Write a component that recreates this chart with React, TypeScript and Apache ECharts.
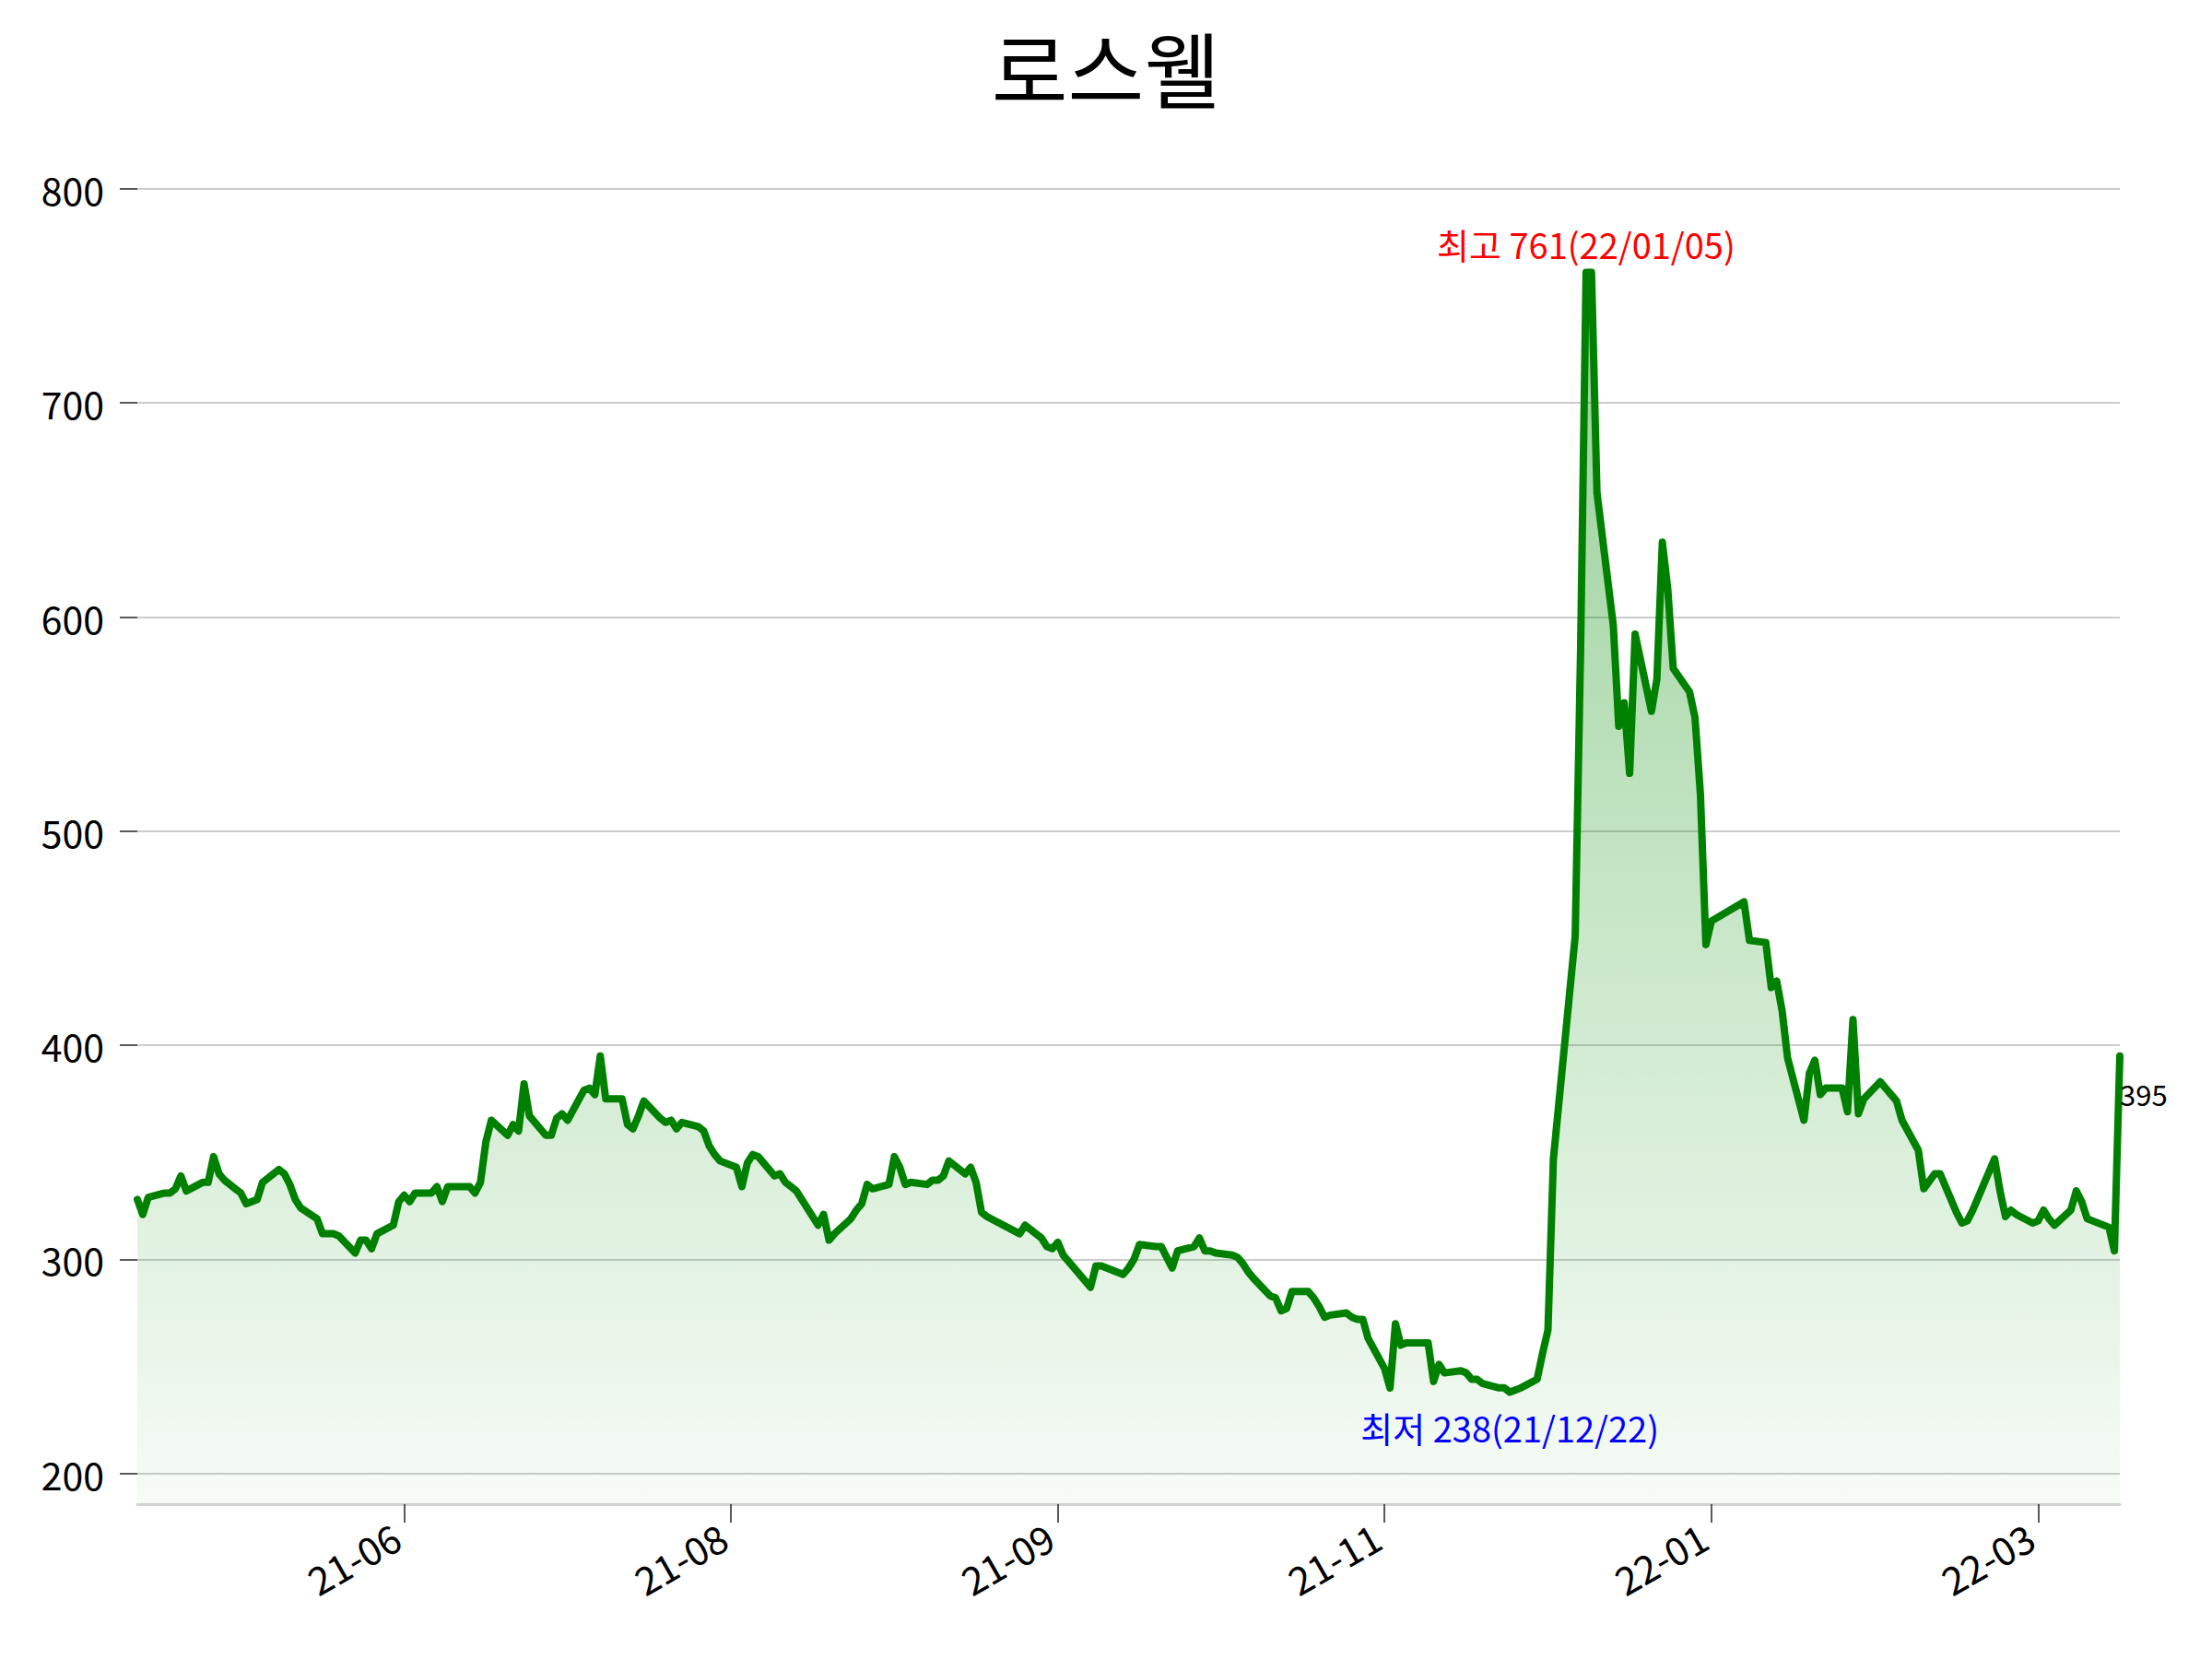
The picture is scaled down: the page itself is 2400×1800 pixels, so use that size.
import React, { useEffect, useRef } from "react";
import * as echarts from "echarts";

const chartTitle = "로스웰";

const dates: string[] = [
  "2021-04-14", "2021-04-15", "2021-04-16", "2021-04-19", "2021-04-20", "2021-04-21", "2021-04-22", "2021-04-23",
  "2021-04-26", "2021-04-27", "2021-04-28", "2021-04-29", "2021-04-30",
  "2021-05-03", "2021-05-04", "2021-05-06", "2021-05-07", "2021-05-10", "2021-05-11", "2021-05-12", "2021-05-13", "2021-05-14",
  "2021-05-17", "2021-05-18", "2021-05-20", "2021-05-21", "2021-05-24", "2021-05-25", "2021-05-26", "2021-05-27", "2021-05-28",
  "2021-05-31", "2021-06-01", "2021-06-02", "2021-06-03", "2021-06-04", "2021-06-07", "2021-06-08", "2021-06-09", "2021-06-10", "2021-06-11",
  "2021-06-14", "2021-06-15", "2021-06-16", "2021-06-17", "2021-06-18", "2021-06-21", "2021-06-22", "2021-06-23", "2021-06-24", "2021-06-25",
  "2021-06-28", "2021-06-29", "2021-06-30", "2021-07-01", "2021-07-02", "2021-07-05", "2021-07-06", "2021-07-07", "2021-07-08", "2021-07-09",
  "2021-07-12", "2021-07-13", "2021-07-14", "2021-07-15", "2021-07-16", "2021-07-19", "2021-07-20", "2021-07-21", "2021-07-22", "2021-07-23",
  "2021-07-26", "2021-07-27", "2021-07-28", "2021-07-29", "2021-07-30", "2021-08-02", "2021-08-03", "2021-08-04", "2021-08-05", "2021-08-06",
  "2021-08-09", "2021-08-10", "2021-08-11", "2021-08-12", "2021-08-13", "2021-08-17", "2021-08-18", "2021-08-19", "2021-08-20",
  "2021-08-23", "2021-08-24", "2021-08-25", "2021-08-26", "2021-08-27", "2021-08-30", "2021-08-31", "2021-09-01", "2021-09-02", "2021-09-03",
  "2021-09-06", "2021-09-07", "2021-09-08", "2021-09-09", "2021-09-10", "2021-09-13", "2021-09-14", "2021-09-15", "2021-09-16", "2021-09-17",
  "2021-09-23", "2021-09-24", "2021-09-27", "2021-09-28", "2021-09-29", "2021-09-30", "2021-10-01",
  "2021-10-05", "2021-10-06", "2021-10-07", "2021-10-08", "2021-10-12", "2021-10-13", "2021-10-14", "2021-10-15",
  "2021-10-18", "2021-10-19", "2021-10-20", "2021-10-21", "2021-10-22", "2021-10-25", "2021-10-26", "2021-10-27", "2021-10-28", "2021-10-29",
  "2021-11-01", "2021-11-02", "2021-11-03", "2021-11-04", "2021-11-05", "2021-11-08", "2021-11-09", "2021-11-10", "2021-11-11", "2021-11-12",
  "2021-11-15", "2021-11-16", "2021-11-17", "2021-11-18", "2021-11-19", "2021-11-22", "2021-11-23", "2021-11-24", "2021-11-25", "2021-11-26",
  "2021-11-29", "2021-11-30", "2021-12-01", "2021-12-02", "2021-12-03", "2021-12-06", "2021-12-07", "2021-12-08", "2021-12-09", "2021-12-10",
  "2021-12-13", "2021-12-14", "2021-12-15", "2021-12-16", "2021-12-17", "2021-12-20", "2021-12-21", "2021-12-22", "2021-12-23", "2021-12-24",
  "2021-12-27", "2021-12-28", "2021-12-29", "2021-12-30",
  "2022-01-03", "2022-01-04", "2022-01-05", "2022-01-06", "2022-01-07", "2022-01-10", "2022-01-11", "2022-01-12", "2022-01-13", "2022-01-14",
  "2022-01-17", "2022-01-18", "2022-01-19", "2022-01-20", "2022-01-21", "2022-01-24", "2022-01-25", "2022-01-26", "2022-01-27", "2022-01-28",
  "2022-02-03", "2022-02-04", "2022-02-07", "2022-02-08", "2022-02-09", "2022-02-10", "2022-02-11",
  "2022-02-14", "2022-02-15", "2022-02-16", "2022-02-17", "2022-02-18", "2022-02-21", "2022-02-22", "2022-02-23", "2022-02-24", "2022-02-25",
  "2022-02-28", "2022-03-02", "2022-03-03", "2022-03-04", "2022-03-07", "2022-03-08", "2022-03-10", "2022-03-11",
  "2022-03-14", "2022-03-15", "2022-03-16", "2022-03-17", "2022-03-18", "2022-03-21", "2022-03-22", "2022-03-23", "2022-03-24", "2022-03-25",
  "2022-03-28", "2022-03-29", "2022-03-30", "2022-03-31", "2022-04-01", "2022-04-04", "2022-04-05", "2022-04-06", "2022-04-07", "2022-04-08",
  "2022-04-11", "2022-04-12", "2022-04-13",
];

const closes: number[] = [
  328, 321, 329, 331, 331, 333, 339, 332,
  336, 336, 348, 340, 337,
  331, 326, 328, 336, 342, 340, 335, 328, 324,
  319, 312, 312, 311, 303, 309, 309, 305, 312,
  316, 327, 330, 327, 331, 331, 334, 327, 334, 334,
  334, 331, 336, 355, 365, 358, 363, 360, 382, 367,
  358, 358, 366, 368, 365, 379, 380, 377, 395, 375,
  375, 363, 361, 367, 374, 366, 364, 365, 361, 364,
  362, 360, 353, 349, 346, 343, 334, 345, 349, 348,
  339, 340, 336, 334, 332, 316, 321, 309, 312,
  319, 323, 326, 335, 333, 335, 348, 343, 335, 336,
  335, 337, 337, 339, 346, 340, 343, 336, 322, 320,
  312, 316, 310, 306, 305, 308, 302,
  290, 287, 297, 297, 293, 296, 300, 307,
  306, 306, 301, 296, 304, 306, 310, 304, 304, 303,
  302, 301, 298, 294, 291, 283, 282, 276, 277, 285,
  285, 282, 278, 273, 274, 275, 273, 272, 272, 263,
  249, 240, 270, 260, 261, 261, 261, 243, 251, 247,
  248, 247, 244, 244, 242, 240, 240, 238, 239, 240,
  244, 256, 267, 347,
  451, 586, 761, 761, 658, 596, 549, 560, 527, 592,
  556, 571, 635, 613, 576, 565, 553, 517, 447, 458,
  467, 449, 448, 427, 430, 416, 394,
  365, 387, 393, 377, 380, 380, 369, 412, 368, 375,
  383, 377, 374, 365, 351, 333, 340, 340,
  322, 317, 318, 323, 329, 347, 332, 320, 323, 321,
  317, 318, 323, 319, 316, 323, 332, 327, 319, 318,
  315, 304, 395,
];

const yTicks: number[] = [200, 300, 400, 500, 600, 700, 800];
const xTickDates: string[] = ["2021-06-02", "2021-08-01", "2021-09-30", "2021-11-29", "2022-01-28", "2022-03-29"];
const xRange: string[] = ["2021-04-14", "2022-04-13"];
const yRange: number[] = [185.7, 813.3];

const FONT = "'Noto Sans CJK KR', 'Noto Sans', sans-serif";

// date string -> day number (days since 1970-01-01)
function dayNum(s: string): number {
  const [y, m, d] = s.split("-").map(Number);
  return Math.round(Date.UTC(y, m - 1, d) / 86400000);
}
function pad2(n: number): string {
  return n < 10 ? "0" + n : "" + n;
}
function shortDate(s: string): string {
  const [y, m, d] = s.split("-");
  return `${y.slice(2)}/${m}/${d}`;
}

const GRID_TOP = 174;
const GRID_BOTTOM_Y = 1632;

export default function App() {
  const ref = useRef<HTMLDivElement>(null);

  useEffect(() => {
    if (!ref.current) return;
    const chart = echarts.init(ref.current, undefined, { renderer: "svg" });

    let maxI = 0;
    let minI = 0;
    closes.forEach((v, i) => {
      if (v > closes[maxI]) maxI = i;
      if (v < closes[minI]) minI = i;
    });
    const lastI = closes.length - 1;
    const seriesData = dates.map((d, i) => [dayNum(d), closes[i]]);
    const xTicks = xTickDates.map(dayNum);

    chart.setOption({
      animation: false,
      backgroundColor: "#ffffff",
      title: {
        text: chartTitle,
        left: "center",
        top: 20,
        textStyle: { fontFamily: FONT, fontSize: 90, fontWeight: "normal", color: "#000", lineHeight: 94 },
      },
      grid: { left: 149, right: 100, top: GRID_TOP, bottom: 1800 - GRID_BOTTOM_Y, containLabel: false },
      xAxis: {
        type: "value",
        min: dayNum(xRange[0]),
        max: dayNum(xRange[1]),
        axisLine: { show: true, onZero: false, lineStyle: { color: "#d3d3d3", width: 3 } },
        axisTick: { show: true, customValues: xTicks, length: 20, lineStyle: { color: "#222", width: 1.5 } },
        axisLabel: {
          show: true,
          customValues: xTicks,
          rotate: 30,
          margin: 26,
          fontFamily: FONT,
          fontSize: 42,
          color: "#000",
          padding: [0, 10, 0, 0],
          formatter: (v: number) => {
            const d = new Date(v * 86400000);
            return `${pad2(d.getUTCFullYear() % 100)}-${pad2(d.getUTCMonth() + 1)}`;
          },
        },
        splitLine: { show: false },
      },
      yAxis: {
        type: "value",
        min: yRange[0],
        max: yRange[1],
        axisLine: { show: false },
        axisTick: { show: true, customValues: yTicks, length: 19, lineStyle: { color: "#222", width: 1.5 } },
        axisLabel: { show: true, customValues: yTicks, margin: 36, fontFamily: FONT, fontSize: 41, color: "#000" },
        splitLine: { show: true, showMinLine: true, showMaxLine: true, lineStyle: { color: "#cccccc", width: 2 } },
      },
      series: [
        {
          type: "line",
          data: seriesData,
          showSymbol: false,
          symbol: "none",
          lineStyle: { color: "#008000", width: 8, cap: "round", join: "round" },
          areaStyle: {
            origin: "start",
            color: new echarts.graphic.LinearGradient(
              0,
              GRID_TOP,
              0,
              GRID_BOTTOM_Y,
              [
                { offset: 0, color: "rgba(0,140,0,0.64)" },
                { offset: 1, color: "rgba(0,140,0,0.05)" },
              ],
              true
            ),
          },
          markPoint: {
            symbol: "circle",
            symbolSize: 0,
            silent: true,
            label: { show: true, position: "inside", fontFamily: FONT },
            data: [
              {
                coord: [dayNum(dates[maxI]), closes[maxI]],
                label: {
                  formatter: `최고 ${closes[maxI]}(${shortDate(dates[maxI])})`,
                  color: "#ff0000",
                  fontSize: 38,
                  offset: [0, -31],
                },
              },
              {
                coord: [dayNum(dates[minI]), closes[minI]],
                label: {
                  formatter: `최저 ${closes[minI]}(${shortDate(dates[minI])})`,
                  color: "#0000ff",
                  fontSize: 38,
                  offset: [0, 38],
                },
              },
              {
                coord: [dayNum(dates[lastI]), closes[lastI]],
                label: {
                  formatter: `${closes[lastI]}`,
                  color: "#000",
                  fontSize: 31,
                  align: "left",
                  offset: [0, 41],
                },
              },
            ],
          },
        },
      ],
    });

    return () => chart.dispose();
  }, []);

  return (
    <div
      ref={ref}
      style={{ position: "fixed", left: 0, top: 0, width: 2400, height: 1800, background: "#fff" }}
    />
  );
}
